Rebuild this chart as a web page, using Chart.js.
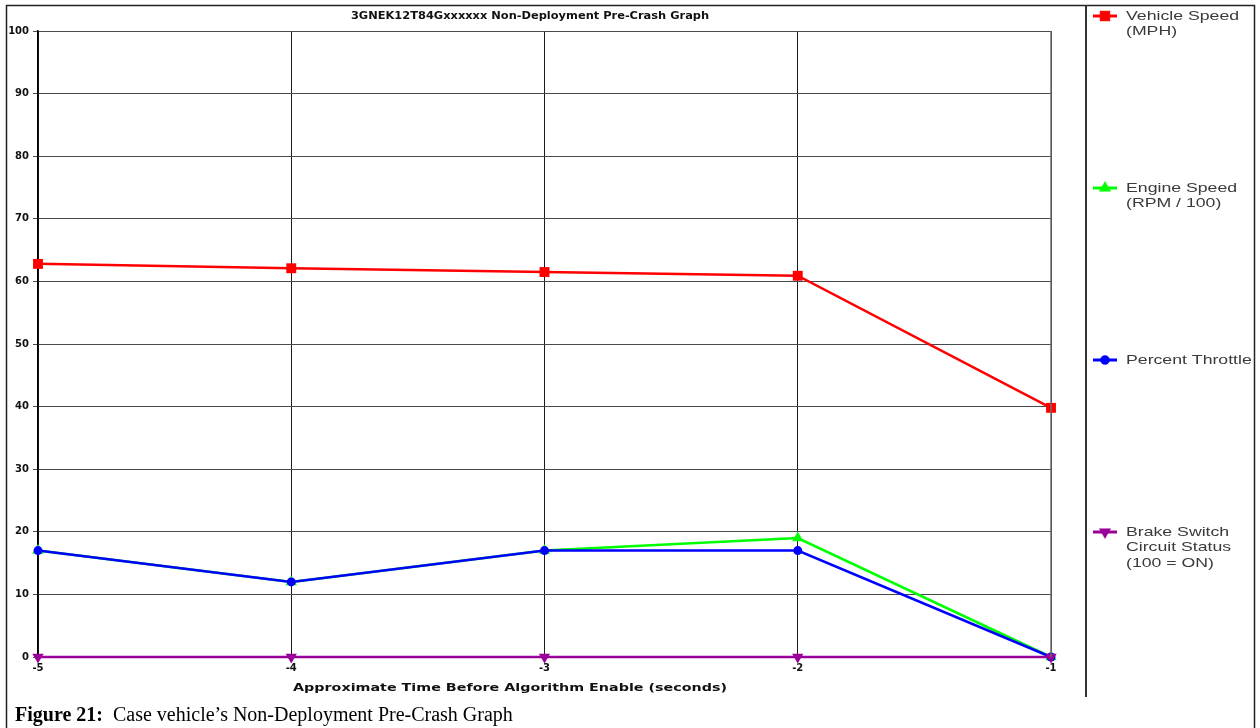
<!DOCTYPE html>
<html>
<head>
<meta charset="utf-8">
<title>Non-Deployment Pre-Crash Graph</title>
<script src="https://cdn.jsdelivr.net/npm/chart.js@4.4.1/dist/chart.umd.min.js"></script>
<style>
  html, body { margin: 0; padding: 0; background: #ffffff; }
  #wrap { position: relative; width: 1260px; height: 728px; }
</style>
</head>
<body>
<div id="wrap"><canvas id="chart" width="1260" height="728"></canvas></div>
<script>
// Time before algorithm enable (seconds)
const timeLabels = ['-5', '-4', '-3', '-2', '-1'];

// Recorded pre-crash values
const vehicleSpeedMph   = [62.8, 62.1, 61.5, 60.9, 39.8];
const engineSpeedRpm100 = [17, 12, 17, 19, 0];
const percentThrottle   = [17, 12, 17, 17, 0];
const brakeSwitchStatus = [0, 0, 0, 0, 0];

// Y axis range and step
const yMin = 0;
const yMax = 100;
const yStep = 10;

// Text
const chartTitle = '3GNEK12T84Gxxxxxx Non-Deployment Pre-Crash Graph';
const xAxisTitle = 'Approximate Time Before Algorithm Enable (seconds)';
const legendVehicle  = ['Vehicle Speed', '(MPH)'];
const legendEngine   = ['Engine Speed', '(RPM / 100)'];
const legendThrottle = ['Percent Throttle'];
const legendBrake    = ['Brake Switch', 'Circuit Status', '(100 = ON)'];
const captionBold = 'Figure 21:';
const captionText = '  Case vehicle\u2019s Non-Deployment Pre-Crash Graph';

const BOLD_FONT = '"DejaVu Sans", "Liberation Sans", sans-serif';

function drawStretched(ctx, text, x, y, sx) {
  ctx.save();
  ctx.translate(x, y);
  ctx.scale(sx, 1);
  ctx.fillText(text, 0, 0);
  ctx.restore();
}

// Frame, titles, legend panel and caption
const decorPlugin = {
  id: 'decor',
  beforeDraw(chart) {
    const ctx = chart.ctx;
    ctx.save();
    ctx.fillStyle = '#ffffff';
    ctx.fillRect(0, 0, chart.width, chart.height);
    ctx.restore();
  },
  afterDraw(chart) {
    const ctx = chart.ctx;
    const area = chart.chartArea;
    ctx.save();

    // outer frame
    ctx.strokeStyle = '#222222';
    ctx.lineWidth = 1.5;
    ctx.beginPath();
    ctx.moveTo(6.5, 728);
    ctx.lineTo(6.5, 5.5);
    ctx.lineTo(1254.5, 5.5);
    ctx.lineTo(1254.5, 728);
    ctx.stroke();

    // legend separator
    ctx.strokeStyle = '#333333';
    ctx.lineWidth = 2;
    ctx.beginPath();
    ctx.moveTo(1086, 5);
    ctx.lineTo(1086, 697);
    ctx.stroke();

    // right border of plot
    ctx.strokeStyle = '#6e6e6e';
    ctx.lineWidth = 1.5;
    ctx.beginPath();
    ctx.moveTo(area.right, area.top);
    ctx.lineTo(area.right, area.bottom);
    ctx.stroke();

    // chart title
    ctx.fillStyle = '#111111';
    ctx.textAlign = 'center';
    ctx.textBaseline = 'middle';
    ctx.font = 'bold 10px ' + BOLD_FONT;
    drawStretched(ctx, chartTitle, 530, 16, 1.14);

    // x axis title
    ctx.font = 'bold 11px ' + BOLD_FONT;
    drawStretched(ctx, xAxisTitle, 510, 688, 1.3);

    // legend
    const entries = [
      { lines: legendVehicle,  y: 16 },
      { lines: legendEngine,   y: 188 },
      { lines: legendThrottle, y: 360 },
      { lines: legendBrake,    y: 532 }
    ];
    chart.data.datasets.forEach((ds, i) => {
      const e = entries[i];
      ctx.strokeStyle = ds.borderColor;
      ctx.fillStyle = ds.backgroundColor;
      ctx.lineWidth = 3;
      ctx.beginPath();
      ctx.moveTo(1093, e.y);
      ctx.lineTo(1117, e.y);
      ctx.stroke();
      ctx.lineWidth = 0.5;
      Chart.helpers.drawPoint(ctx, {
        pointStyle: ds.pointStyle,
        rotation: ds.pointRotation || 0,
        radius: ds.pointRadius,
        borderWidth: 0.5
      }, 1105, e.y);
      ctx.fillStyle = '#3a3a3a';
      ctx.textAlign = 'left';
      ctx.textBaseline = 'middle';
      ctx.font = '13px "Liberation Sans", Arial, sans-serif';
      e.lines.forEach((line, k) => {
        drawStretched(ctx, line, 1126, e.y + k * 15.5, 1.36);
      });
    });

    // caption
    ctx.fillStyle = '#000000';
    ctx.textAlign = 'left';
    ctx.textBaseline = 'alphabetic';
    ctx.font = 'bold 20px "Liberation Serif", "Times New Roman", serif';
    ctx.fillText(captionBold, 15, 721);
    const w = ctx.measureText(captionBold).width;
    ctx.font = '20px "Liberation Serif", "Times New Roman", serif';
    ctx.fillText(captionText, 15 + w, 721);

    ctx.restore();
  }
};

const ctx = document.getElementById('chart').getContext('2d');
new Chart(ctx, {
  type: 'line',
  data: {
    labels: timeLabels,
    datasets: [
      {
        label: legendVehicle.join(' '),
        data: vehicleSpeedMph,
        borderColor: '#ff0000',
        backgroundColor: '#ff0000',
        borderWidth: 2.5,
        pointStyle: 'rect',
        pointRadius: 7,
        pointBorderWidth: 0,
        tension: 0,
        clip: false,
        order: 4
      },
      {
        label: legendEngine.join(' '),
        data: engineSpeedRpm100,
        borderColor: '#00ff00',
        backgroundColor: '#00ff00',
        borderWidth: 2.5,
        pointStyle: 'triangle',
        pointRadius: 6.5,
        pointBorderWidth: 0,
        tension: 0,
        clip: false,
        order: 3
      },
      {
        label: legendThrottle.join(' '),
        data: percentThrottle,
        borderColor: '#0000ff',
        backgroundColor: '#0000ff',
        borderWidth: 2.5,
        pointStyle: 'circle',
        pointRadius: 4.5,
        pointBorderWidth: 0,
        tension: 0,
        clip: false,
        order: 2
      },
      {
        label: legendBrake.join(' '),
        data: brakeSwitchStatus,
        borderColor: '#990099',
        backgroundColor: '#990099',
        borderWidth: 2.5,
        pointStyle: 'triangle',
        pointRotation: 180,
        pointRadius: 6.5,
        pointBorderWidth: 0,
        tension: 0,
        clip: false,
        order: 1
      }
    ]
  },
  options: {
    responsive: false,
    animation: false,
    events: [],
    layout: { padding: { left: 0, right: 209, top: 31, bottom: 41 } },
    plugins: {
      legend: { display: false },
      title: { display: false },
      tooltip: { enabled: false }
    },
    scales: {
      x: {
        type: 'category',
        offset: false,
        afterFit(scale) { scale.height = 30; },
        grid: { color: '#1a1a1a', lineWidth: 1, tickLength: 3, tickColor: '#1a1a1a' },
        border: { display: false },
        ticks: {
          color: '#111111',
          font: { family: BOLD_FONT, size: 10, weight: 'bold' },
          padding: 2,
          maxRotation: 0,
          autoSkip: false
        }
      },
      y: {
        min: yMin,
        max: yMax,
        afterFit(scale) { scale.width = 38; },
        grid: { color: '#4a4a4a', lineWidth: 1, tickLength: 5, tickColor: '#4a4a4a' },
        border: { display: true, color: '#000000', width: 1.5 },
        ticks: {
          stepSize: yStep,
          color: '#111111',
          font: { family: BOLD_FONT, size: 10, weight: 'bold' },
          padding: 4
        }
      }
    }
  },
  plugins: [decorPlugin]
});
</script>
</body>
</html>
